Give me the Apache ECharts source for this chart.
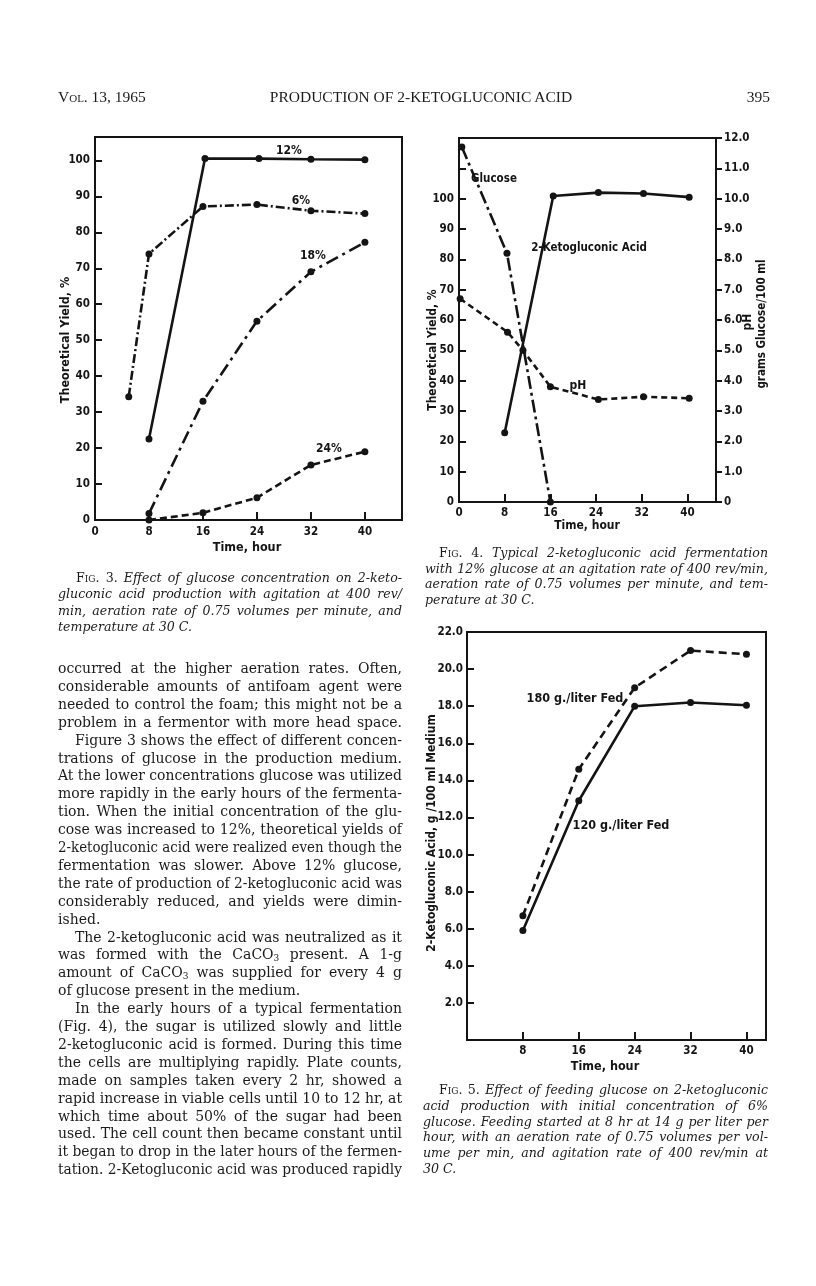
<!DOCTYPE html>
<html><head><meta charset="utf-8">
<script src="https://cdn.jsdelivr.net/npm/echarts@6/dist/echarts.min.js"></script>
<style>
html,body{margin:0;padding:0;background:#fff;}
#page{position:relative;width:816px;height:1286px;overflow:hidden;background:#fff;}
#chart{position:absolute;left:0;top:0;width:816px;height:1286px;}
.t{position:absolute;font-family:"DejaVu Serif","Liberation Serif",serif;color:#1b1b1b;white-space:nowrap;}
.body{font-size:14px;line-height:18px;height:18px;}
.cap{font-size:12.6px;line-height:16px;height:16px;font-style:italic;}
.sc{font-style:normal;font-variant:small-caps;}
.hdr{font-family:"Liberation Serif","DejaVu Serif",serif;font-size:15.5px;line-height:18px;}
</style></head>
<body><div id="page"><div id="chart"></div><div id="txt"></div></div>
<script>
// ---------------- DATA ----------------
// Fig. 3 – theoretical yield (%) vs time (hr) for initial glucose concentration
const fig3_x6 = [5, 8, 16, 24, 32, 40];
const fig3_y6 = [34.3, 74, 87.2, 87.7, 86, 85.2];
const fig3_x12 = [8, 16.3, 24.3, 32, 40];
const fig3_y12 = [22.5, 100.5, 100.5, 100.3, 100.2];
const fig3_x18 = [8, 16, 24, 32, 40];
const fig3_y18 = [1.8, 33, 55.3, 69, 77.2];
const fig3_x24 = [8, 16, 24, 32, 40];
const fig3_y24 = [0, 2, 6.2, 15.3, 19];
const fig3_seriesLabels = ['12%', '6%', '18%', '24%'];

// Fig. 4 – typical fermentation
const fig4_glucoseX = [0.5, 8.4, 16];
const fig4_glucose = [11.7, 8.2, 0];          // g glucose / 100 ml (right axis)
const fig4_acidX = [8, 16.5, 24.4, 32.3, 40.3];
const fig4_acid = [22.8, 100.9, 102, 101.7, 100.5]; // theoretical yield % (left axis)
const fig4_phX = [0.2, 8.5, 11.2, 16, 24.4, 32.3, 40.3];
const fig4_ph = [6.7, 5.6, 5.0, 3.8, 3.38, 3.47, 3.42]; // pH (right axis)

// Fig. 5 – effect of feeding glucose
const fig5_hours = [8, 16, 24, 32, 40];
const fig5_fed180 = [6.7, 14.6, 19.0, 21.0, 20.8];
const fig5_fed120 = [5.9, 12.9, 18.0, 18.2, 18.05];

// Tick definitions
const fig3_yTicks = [0, 10, 20, 30, 40, 50, 60, 70, 80, 90, 100];
const fig4_yTicks = [0, 10, 20, 30, 40, 50, 60, 70, 80, 90, 100];
const fig4_rTicks = [0, 1, 2, 3, 4, 5, 6, 7, 8, 9, 10, 11, 12];
const hourTicks = [0, 8, 16, 24, 32, 40];
const fig5_xTicks = [8, 16, 24, 32, 40];
const fig5_yTicks = [2, 4, 6, 8, 10, 12, 14, 16, 18, 20, 22];

// ---------------- TEXT ----------------
const header = {left: 'Vol. 13, 1965', center: 'PRODUCTION OF 2-KETOGLUCONIC ACID', right: '395'};
const cap3 = [
  '<span class="sc">Fig.</span><span style="font-style:normal"> 3.</span> Effect of glucose concentration on 2-keto-',
  'gluconic acid production with agitation at 400 rev/',
  'min, aeration rate of 0.75 volumes per minute, and',
  'temperature at 30 C.'];
const cap4 = [
  '<span class="sc">Fig.</span><span style="font-style:normal"> 4.</span> Typical 2-ketogluconic acid fermentation',
  'with 12% glucose at an agitation rate of 400 rev/min,',
  'aeration rate of 0.75 volumes per minute, and tem-',
  'perature at 30 C.'];
const cap5 = [
  '<span class="sc">Fig.</span><span style="font-style:normal"> 5.</span> Effect of feeding glucose on 2-ketogluconic',
  'acid production with initial concentration of 6%',
  'glucose. Feeding started at 8 hr at 14 g per liter per',
  'hour, with an aeration rate of 0.75 volumes per vol-',
  'ume per min, and agitation rate of 400 rev/min at',
  '30 C.'];
// [text, indent, justify]
const bodyLines = [
  ['occurred at the higher aeration rates. Often,',0,1],
  ['considerable amounts of antifoam agent were',0,1],
  ['needed to control the foam; this might not be a',0,1],
  ['problem in a fermentor with more head space.',0,1],
  ['Figure 3 shows the effect of different concen-',1,1],
  ['trations of glucose in the production medium.',0,1],
  ['At the lower concentrations glucose was utilized',0,1],
  ['more rapidly in the early hours of the fermenta-',0,1],
  ['tion. When the initial concentration of the glu-',0,1],
  ['cose was increased to 12%, theoretical yields of',0,1],
  ['2-ketogluconic acid were realized even though the',0,1],
  ['fermentation was slower. Above 12% glucose,',0,1],
  ['the rate of production of 2-ketogluconic acid was',0,1],
  ['considerably reduced, and yields were dimin-',0,1],
  ['ished.',0,0],
  ['The 2-ketogluconic acid was neutralized as it',1,1],
  ['was formed with the CaCO<sub style="font-size:9px;vertical-align:-2px">3</sub> present. A 1-g',0,1],
  ['amount of CaCO<sub style="font-size:9px;vertical-align:-2px">3</sub> was supplied for every 4 g',0,1],
  ['of glucose present in the medium.',0,0],
  ['In the early hours of a typical fermentation',1,1],
  ['(Fig. 4), the sugar is utilized slowly and little',0,1],
  ['2-ketogluconic acid is formed. During this time',0,1],
  ['the cells are multiplying rapidly. Plate counts,',0,1],
  ['made on samples taken every 2 hr, showed a',0,1],
  ['rapid increase in viable cells until 10 to 12 hr, at',0,1],
  ['which time about 50% of the sugar had been',0,1],
  ['used. The cell count then became constant until',0,1],
  ['it began to drop in the later hours of the fermen-',0,1],
  ['tation. 2-Ketogluconic acid was produced rapidly',0,1]];

// ---------------- BUILD TEXT ----------------
const txt = document.getElementById('txt');
function add(html, cls, style){ const d=document.createElement('div'); d.className='t '+cls; d.setAttribute('style',style); d.innerHTML=html; txt.appendChild(d); return d; }
// place a line; compress if too long, justify if asked
function fit(d, W, justify){
  const w = d.getBoundingClientRect().width;
  if (w > W) { d.style.transformOrigin='0 0'; d.style.transform='scaleX('+(W/w).toFixed(4)+')'; }
  else if (justify) { d.style.width=W+'px'; d.style.whiteSpace='normal'; d.style.textAlign='justify'; d.style.textAlignLast='justify'; }
}
add('<span style="font-variant:small-caps">'+header.left+'</span>','hdr','left:58px;top:88px;');
add(header.center,'hdr','left:256px;width:330px;top:88px;text-align:center;');
add(header.right,'hdr','left:700px;width:70px;top:88px;text-align:right;');
function addCap(lines, left, width, top0, step, indent){
  lines.forEach((l,i)=>{
    const last = i===lines.length-1;
    const ind = i===0 ? indent : 0;
    const d = add(l, 'cap', `left:${left+ind}px;top:${(top0+i*step-8).toFixed(1)}px;`);
    fit(d, width-ind, !last);
  });
}
addCap(cap3, 58, 344, 578, 16.3, 18);
addCap(cap4, 425, 343, 553, 15.7, 14);
addCap(cap5, 423, 345, 1090, 15.8, 16);
bodyLines.forEach((l,i)=>{
  const ind = l[1] ? 17 : 0;
  const d = add(l[0], 'body', `left:${58+ind}px;top:${(668+i*17.9-9).toFixed(1)}px;`);
  fit(d, 344-ind, !!l[2]);
});

// ---------------- CHART ----------------
const ink = '#141414';
const F = '"DejaVu Sans Condensed","Roboto Condensed","Liberation Sans Narrow",Roboto,"DejaVu Sans",sans-serif';
const LS = 11.5; // tick label size
const zip = (xs, ys) => xs.map((x,i)=>[x, ys[i]]);
const inSet = (set, v) => set.some(t => Math.abs(t - v) < 1e-6);
function lbl(set, fmt){ return v => inSet(set, v) ? (fmt ? fmt(v) : String(v)) : ''; }
function labelStyle(margin, set, fmt){ return {color:ink,fontFamily:F,fontWeight:'bold',fontSize:LS,margin, formatter: lbl(set, fmt)}; }
function vAxis(o){
  return Object.assign({
    type:'value', splitLine:{show:false},
    axisLine:{show:true,onZero:false,lineStyle:{color:ink,width:2}},
    axisTick:{show:true,inside:true,length:7,lineStyle:{color:ink,width:2}}
  }, o);
}
const xTick = {show:true,inside:true,length:8,lineStyle:{color:ink,width:2}};
const xAxis = [
  vAxis({gridIndex:0, min:0, max:45.5, interval:8, axisTick:xTick, axisLabel:labelStyle(6, hourTicks)}),
  vAxis({gridIndex:1, min:0, max:45, interval:8, axisTick:xTick, axisLabel:labelStyle(5, hourTicks)}),
  vAxis({gridIndex:2, min:0, max:42.8, interval:8, axisTick:xTick, axisLabel:labelStyle(5, fig5_xTicks)})
];
const yAxis = [
  vAxis({gridIndex:0, min:0, max:106.5, interval:10, axisLabel:labelStyle(5, fig3_yTicks)}),
  vAxis({gridIndex:1, min:0, max:120, interval:10, axisLabel:labelStyle(5, fig4_yTicks)}),
  vAxis({gridIndex:1, min:0, max:12, interval:1, position:'right',
    axisTick:{show:true,inside:false,length:6,lineStyle:{color:ink,width:2}},
    axisLabel:labelStyle(8, fig4_rTicks, v => v===0 ? '0' : v.toFixed(1))}),
  vAxis({gridIndex:2, min:0, max:22, interval:2, axisLabel:labelStyle(4, fig5_yTicks, v => v.toFixed(1))})
];

function line(xi, yi, data, type){
  return {type:'line', xAxisIndex:xi, yAxisIndex:yi, data, symbol:'circle', symbolSize:7,
    itemStyle:{color:ink}, lineStyle:{color:ink, width:2.6, type}, animation:false, silent:true, z:3};
}
const series = [
  line(0,0, zip(fig3_x12, fig3_y12), 'solid'),
  line(0,0, zip(fig3_x6, fig3_y6), [9,3,2,3]),
  line(0,0, zip(fig3_x18, fig3_y18), [13,5,3,5]),
  line(0,0, zip(fig3_x24, fig3_y24), [7,4]),
  line(1,2, zip(fig4_glucoseX, fig4_glucose), [13,4,3,4]),
  line(1,1, zip(fig4_acidX, fig4_acid), 'solid'),
  line(1,2, zip(fig4_phX, fig4_ph), [6,4]),
  line(2,3, zip(fig5_hours, fig5_fed180), [8,5]),
  line(2,3, zip(fig5_hours, fig5_fed120), 'solid')
];

function gt(text, x, y, rot, size){
  return {type:'text', x, y, rotation: rot||0, z:10,
    style:{text, x:0, y:0, fill:ink, font:`bold ${size||12}px ${F}`, align:'center', verticalAlign:'middle'}};
}
const R = Math.PI/2;
const graphic = [
  gt(fig3_seriesLabels[0], 289, 151), gt(fig3_seriesLabels[1], 301, 201), gt(fig3_seriesLabels[2], 313, 256), gt(fig3_seriesLabels[3], 329, 449),
  gt('Theoretical Yield, %', 66, 340, R, 12.5), gt('Time, hour', 247, 548, 0, 12.5),
  gt('Glucose', 494, 179, 0, 11.5), gt('2-Ketogluconic Acid', 589, 248, 0, 11.5), gt('pH', 578, 386),
  gt('Theoretical Yield, %', 433, 350, R), gt('pH', 748, 322, R), gt('grams Glucose/100 ml', 762, 324, R, 11.5),
  gt('Time, hour', 587, 526),
  gt('180 g./liter Fed', 575, 699, 0, 12.5), gt('120 g./liter Fed', 621, 826, 0, 12.5),
  gt('2-Ketogluconic Acid, g /100 ml Medium', 432, 833, R, 12), gt('Time, hour', 605, 1067, 0, 12.5)
];

const chart = echarts.init(document.getElementById('chart'), null, {renderer:'canvas'});
chart.setOption({
  animation:false,
  backgroundColor:'transparent',
  grid:[
    {left:95, top:137, width:307, height:383, show:true, borderColor:ink, borderWidth:2, backgroundColor:'transparent'},
    {left:459, top:138, width:257, height:364, show:true, borderColor:ink, borderWidth:2, backgroundColor:'transparent'},
    {left:467, top:632, width:299, height:408, show:true, borderColor:ink, borderWidth:2, backgroundColor:'transparent'}
  ],
  xAxis, yAxis, series, graphic
});
</script></body></html>
